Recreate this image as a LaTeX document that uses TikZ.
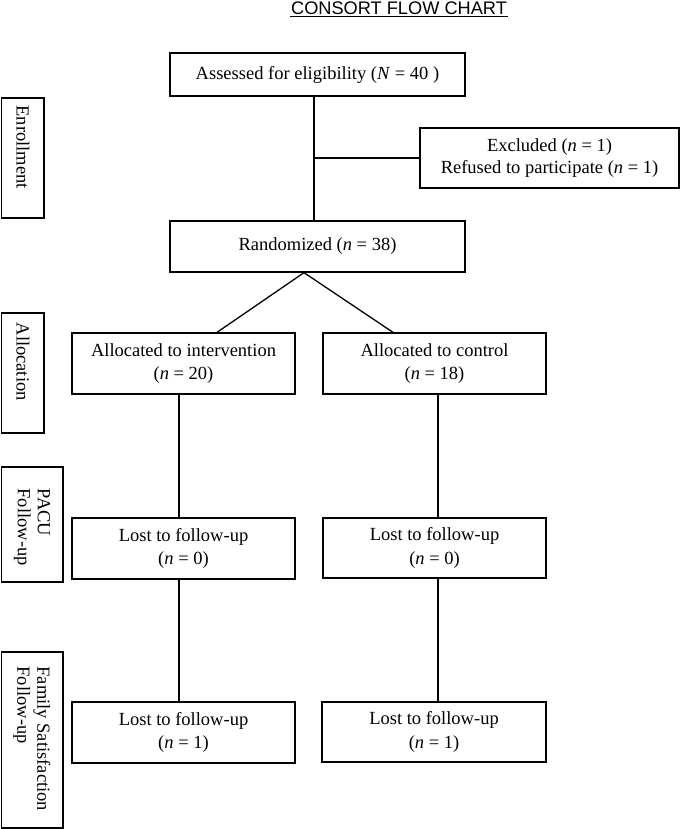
\documentclass[tikz,border=0pt]{standalone}
\usepackage{fontspec}
\setmainfont{Liberation Serif}
\newfontfamily\titlefont{Liberation Sans}
\begin{document}
\begin{tikzpicture}[x=1pt,y=-1pt,
  every path/.style={line width=1.3pt},
  box/.style={draw, rectangle, inner sep=0pt, align=center,
    font=\fontsize{18.5}{23.5}\selectfont},
  sidebox/.style={draw, rectangle, inner sep=0pt},
  sidelabel/.style={rotate=-90, anchor=west, inner sep=0pt, align=left,
    font=\fontsize{18.5}{20}\selectfont},
  conn/.style={draw, line width=1.3pt}]
\useasboundingbox (0,0) rectangle (680,829);
% title
\node[anchor=base, inner sep=0pt, font=\titlefont\fontsize{18.2}{20}\selectfont] (title) at (399,14.5) {CONSORT FLOW CHART};
\draw[line width=0.9pt] ([yshift=-1.8pt]title.base west) -- ([yshift=-1.8pt]title.base east);
% main boxes
\node[box, minimum width=295, minimum height=43] (assess) at (317.5,74.5) {Assessed for eligibility (\textit{N} = 40 )};
\node[box, minimum width=259, minimum height=60, font=\fontsize{18.5}{21.5}\selectfont] (excl) at (549.5,158) {Excluded (\textit{n} = 1)\\Refused to participate (\textit{n} = 1)};
\node[box, minimum width=295, minimum height=51] (rand) at (317.5,246.5) {Randomized (\textit{n} = 38)};
\node[box, minimum width=223, minimum height=61] (allocI) at (183.5,363.5) {Allocated to intervention\\(\textit{n} = 20)};
\node[box, minimum width=223, minimum height=61] (allocC) at (434.5,363.5) {Allocated to control\\(\textit{n} = 18)};
\node[box, minimum width=223, minimum height=61] (pacuI) at (183.5,548.5) {Lost to follow-up\\(\textit{n} = 0)};
\node[box, minimum width=223, minimum height=60] (pacuC) at (434.5,548) {Lost to follow-up\\(\textit{n} = 0)};
\node[box, minimum width=223, minimum height=61] (famI) at (183.5,732.5) {Lost to follow-up\\(\textit{n} = 1)};
\node[box, minimum width=224, minimum height=60] (famC) at (434,732) {Lost to follow-up\\(\textit{n} = 1)};
% side boxes
\node[sidebox, minimum width=42.5, minimum height=120] (sEnr) at (22.75,158) {};
\node[sidebox, minimum width=42.5, minimum height=120] (sAll) at (22.75,373) {};
\node[sidebox, minimum width=61.5, minimum height=115] (sPacu) at (32.25,524.5) {};
\node[sidebox, minimum width=61.5, minimum height=176] (sFam) at (32.25,740) {};
\node[sidelabel] (lEnr) at (23,105) {Enrollment};
\node[sidelabel] (lAll) at (23,322) {Allocation};
\node[sidelabel] (lPacu) at (32,488) {PACU\\Follow-up};
\node[sidelabel] (lFam) at (32,666) {Family Satisfaction\\Follow-up};
% connectors
\coordinate (jx) at (314,158);
\coordinate (apex) at (304,0);
\coordinate (aL) at (217,0);
\coordinate (aR) at (393,0);
\coordinate (cL) at (179,0);
\coordinate (cR) at (438,0);
\draw (jx |- assess.south) -- (jx |- rand.north);
\draw (jx) -- (jx -| excl.west);
\draw (aL |- allocI.north) -- (apex |- rand.south) -- (aR |- allocC.north);
\draw (cL |- allocI.south) -- (cL |- pacuI.north);
\draw (cL |- pacuI.south) -- (cL |- famI.north);
\draw (cR |- allocC.south) -- (cR |- pacuC.north);
\draw (cR |- pacuC.south) -- (cR |- famC.north);
\end{tikzpicture}
\end{document}
